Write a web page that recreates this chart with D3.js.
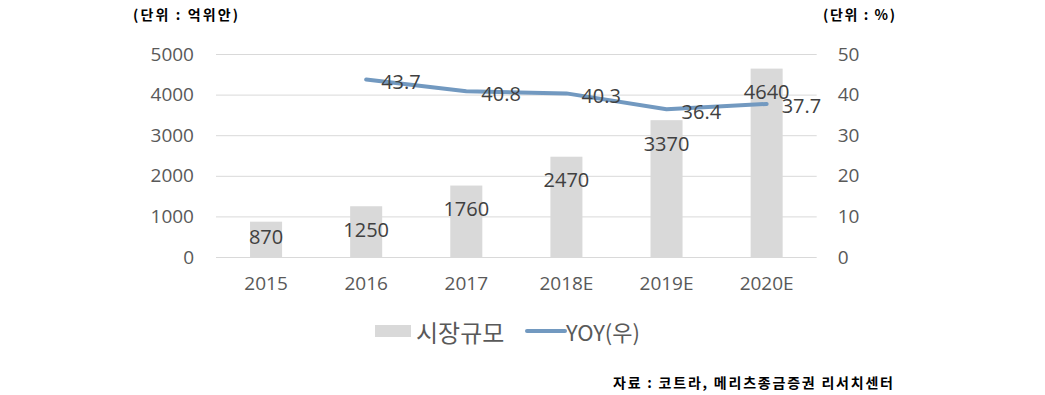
<!DOCTYPE html>
<html><head><meta charset="utf-8">
<script src="https://cdn.jsdelivr.net/npm/d3@7"></script>
<style>
html,body{margin:0;padding:0;background:#fff;}
svg{display:block;}
</style></head>
<body>
<svg id="chart" width="1045" height="395"></svg>
<script>
const categories = ["2015","2016","2017","2018E","2019E","2020E"];
const marketSize = [870,1250,1760,2470,3370,4640];
const yoy = [null,43.7,40.8,40.3,36.4,37.7];
const leftTicks = [0,1000,2000,3000,4000,5000];
const rightTicks = [0,10,20,30,40,50];
const seriesNames = ["시장규모","YOY(우)"];
const unitLeft = "(단위 : 억위안)";
const unitRight = "(단위 : %)";
const source = "자료 : 코트라, 메리츠종금증권 리서치센터";

const svg = d3.select("#chart");
const numFont = "'Open Sans', 'Noto Sans', sans-serif";
const krFont = "'Noto Sans CJK KR', 'Noto Sans', sans-serif";
const barColor = "#d9d9d9", lineColor = "#7299c0", axisText = "#595959", labelText = "#404040";

const x = d3.scaleBand().domain(categories).range([216, 816.7]).paddingInner(0.68).paddingOuter(0.34);
const yL = d3.scaleLinear().domain([0,5000]).range([257,54]);
const yR = d3.scaleLinear().domain([0,50]).range([257,54]);

// gridlines
svg.append("g").selectAll("line").data(leftTicks).join("line")
  .attr("x1",216).attr("x2",816.7)
  .attr("y1",d=>yL(d)+0.5).attr("y2",d=>yL(d)+0.5)
  .attr("stroke","#d9d9d9").attr("stroke-width",1);

// left axis
const gL = svg.append("g").attr("transform","translate(216,0)")
  .call(d3.axisLeft(yL).tickValues(leftTicks).tickSize(0).tickPadding(22).tickFormat(d3.format("d")));
gL.select(".domain").remove();
gL.selectAll("text").attr("font-family",numFont).attr("font-size",19).attr("fill",axisText);

// right axis
const gR = svg.append("g").attr("transform","translate(816.7,0)")
  .call(d3.axisRight(yR).tickValues(rightTicks).tickSize(0).tickPadding(21).tickFormat(d3.format("d")));
gR.select(".domain").remove();
gR.selectAll("text").attr("font-family",numFont).attr("font-size",19).attr("fill",axisText);

// bottom axis
const gB = svg.append("g").attr("transform","translate(0,257)")
  .call(d3.axisBottom(x).tickSize(0).tickPadding(20));
gB.select(".domain").remove();
gB.selectAll("text").attr("font-family",numFont).attr("font-size",19).attr("fill",axisText);

// bars
svg.append("g").selectAll("rect").data(marketSize).join("rect")
  .attr("x",(d,i)=>x(categories[i])).attr("width",x.bandwidth())
  .attr("y",d=>yL(d)).attr("height",d=>yL(0)-yL(d))
  .attr("fill",barColor);

// line
const pts = yoy.map((v,i)=>({v,c:categories[i]})).filter(d=>d.v!=null);
const line = d3.line().x(d=>x(d.c)+x.bandwidth()/2).y(d=>yR(d.v));
svg.append("path").datum(pts).attr("d",line)
  .attr("fill","none").attr("stroke",lineColor).attr("stroke-width",4).attr("stroke-linejoin","round").attr("stroke-linecap","round");

// bar labels
svg.append("g").selectAll("text").data(marketSize).join("text")
  .attr("x",(d,i)=>x(categories[i])+x.bandwidth()/2)
  .attr("y",d=>Math.min(yL(d)+23, yL(0)-21))
  .attr("text-anchor","middle").attr("dominant-baseline","central")
  .attr("font-family",numFont).attr("font-size",20).attr("fill",labelText)
  .text(d=>d);

// line labels
svg.append("g").selectAll("text").data(pts).join("text")
  .attr("x",d=>x(d.c)+x.bandwidth()/2+15)
  .attr("y",d=>yR(d.v)+2)
  .attr("dominant-baseline","central")
  .attr("font-family",numFont).attr("font-size",20).attr("fill",labelText)
  .text(d=>d3.format(".1f")(d.v));

// unit titles
svg.append("text").attr("x",133).attr("y",20).attr("font-family",krFont).attr("font-weight","bold")
  .attr("font-size",14).attr("fill","#000").attr("textLength",105).attr("lengthAdjust","spacing")
  .text(unitLeft);
svg.append("text").attr("x",823).attr("y",20).attr("font-family",krFont).attr("font-weight","bold")
  .attr("font-size",14).attr("fill","#000").attr("textLength",72).attr("lengthAdjust","spacing")
  .text(unitRight);

// legend
const lg = svg.append("g");
lg.append("rect").attr("x",375).attr("y",325).attr("width",36).attr("height",12).attr("fill",barColor);
lg.append("text").attr("x",416).attr("y",331).attr("dominant-baseline","central")
  .attr("font-family",krFont).attr("font-size",24).attr("fill",axisText).text(seriesNames[0]);
lg.append("line").attr("x1",527).attr("x2",565).attr("y1",331).attr("y2",331)
  .attr("stroke",lineColor).attr("stroke-width",4).attr("stroke-linecap","round");
lg.append("text").attr("x",566).attr("y",331).attr("dominant-baseline","central")
  .attr("font-family",krFont).attr("font-size",22).attr("fill",axisText).text(seriesNames[1]);

// source
svg.append("text").attr("x",613).attr("y",388).attr("font-family",krFont).attr("font-weight","bold")
  .attr("font-size",14).attr("fill","#000").attr("textLength",280).attr("lengthAdjust","spacing")
  .text(source);
</script>
</body></html>
